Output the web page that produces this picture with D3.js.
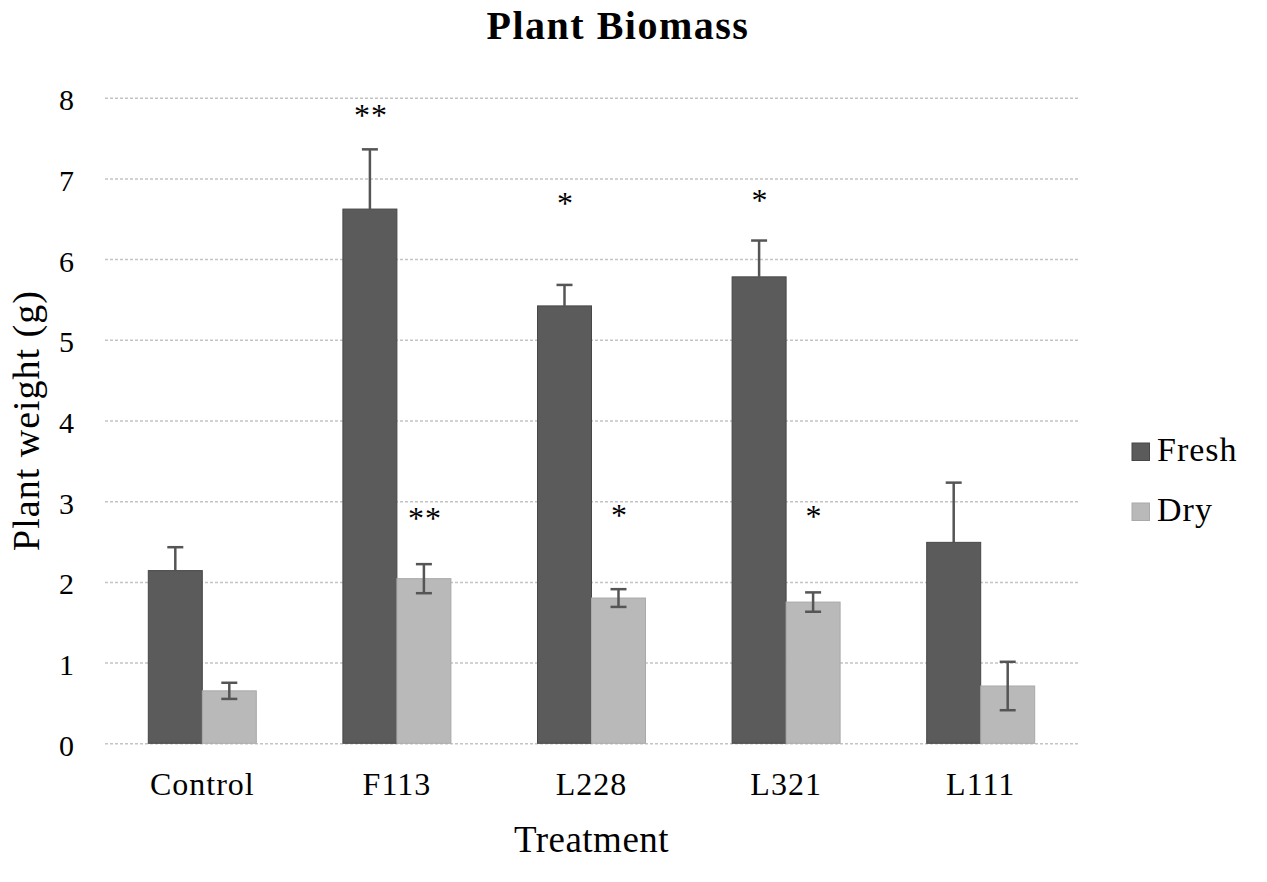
<!DOCTYPE html>
<html>
<head>
<meta charset="utf-8">
<script src="https://cdn.jsdelivr.net/npm/d3@7"></script>
<style>
  body { margin: 0; background: #fff; }
  svg text { font-family: "Liberation Serif", "Times New Roman", serif; fill: #000; }
</style>
</head>
<body>
<div id="chart"></div>
<script>
// data
var categories = ["Control", "F113", "L228", "L321", "L111"];
var seriesNames = ["Fresh", "Dry"];
var freshMean = [2.14, 6.62, 5.42, 5.78, 2.49];
var freshErr = [0.29, 0.74, 0.26, 0.45, 0.74];
var dryMean = [0.65, 2.04, 1.80, 1.75, 0.71];
var dryErr = [0.10, 0.18, 0.11, 0.12, 0.30];
var freshSig = ["", "**", "*", "*", ""];
var drySig = ["", "**", "*", "*", ""];
// where the significance marks sit (in grams)
var freshSigAt = [0, 7.82, 6.73, 6.77, 0];
var drySigAt = [0, 2.83, 2.87, 2.85, 0];
var yTicks = [0, 1, 2, 3, 4, 5, 6, 7, 8];

var svgWidth = 1267;
var svgHeight = 882;

var margin = { top: 97.7, right: 189, bottom: 138.7, left: 105 };
var width = svgWidth - margin.left - margin.right;
var height = svgHeight - margin.top - margin.bottom;

var colors = { Fresh: "#5b5b5b", Dry: "#b9b9b9" };
var strokes = { Fresh: "#474747", Dry: "#a9a9a9" };

var svg = d3.select("#chart")
  .append("svg")
  .attr("width", svgWidth)
  .attr("height", svgHeight);

var chartGroup = svg.append("g")
  .attr("transform", `translate(${margin.left}, ${margin.top})`);

// build rows from arrays
var rows = categories.map(function(c, i) {
  return {
    cat: c,
    values: [
      { key: "Fresh", mean: freshMean[i], err: freshErr[i], sig: freshSig[i], sigAt: freshSigAt[i] },
      { key: "Dry", mean: dryMean[i], err: dryErr[i], sig: drySig[i], sigAt: drySigAt[i] }
    ]
  };
});

var x0 = d3.scaleBand()
  .domain(categories)
  .range([0, width])
  .paddingInner(0.445)
  .paddingOuter(0.2225);

var x1 = d3.scaleBand()
  .domain(seriesNames)
  .range([0, x0.bandwidth()]);

var y = d3.scaleLinear()
  .domain([0, 8])
  .range([height, 0]);

// gridlines
var grid = chartGroup.append("g")
  .call(d3.axisLeft(y).tickValues(yTicks).tickSize(-width).tickFormat(""));
grid.select(".domain").remove();
grid.selectAll("line")
  .attr("stroke", "#c4c4c4")
  .attr("stroke-width", 1.5)
  .attr("stroke-dasharray", "3,2");

// y axis labels
var yAxis = chartGroup.append("g")
  .call(d3.axisLeft(y).tickValues(yTicks).tickSize(0).tickPadding(31));
yAxis.select(".domain").remove();
yAxis.selectAll("text")
  .style("font-size", "30px")
  .attr("dy", "0.4em");

// x axis labels
var xAxis = chartGroup.append("g")
  .attr("transform", `translate(0, ${height})`)
  .call(d3.axisBottom(x0).tickSize(0));
xAxis.select(".domain").remove();
xAxis.selectAll("text")
  .style("font-size", "32px")
  .style("letter-spacing", "1px")
  .attr("y", 52)
  .attr("dy", 0);

// bars
var groups = chartGroup.selectAll(".cat")
  .data(rows)
  .enter()
  .append("g")
  .attr("class", "cat")
  .attr("transform", d => `translate(${x0(d.cat)}, 0)`);

groups.selectAll("rect")
  .data(d => d.values)
  .enter()
  .append("rect")
  .attr("x", d => x1(d.key))
  .attr("y", d => y(d.mean))
  .attr("width", x1.bandwidth())
  .attr("height", d => height - y(d.mean))
  .attr("fill", d => colors[d.key])
  .attr("stroke", d => strokes[d.key])
  .attr("stroke-width", 1);

// error bars (fresh only shows the upper half over the dark bar)
var capHalf = 8;
var errs = groups.selectAll(".err")
  .data(d => d.values)
  .enter()
  .append("g")
  .attr("class", "err")
  .attr("stroke", "#555")
  .attr("stroke-width", 2.5);

errs.append("line")
  .attr("x1", d => x1(d.key) + x1.bandwidth() / 2)
  .attr("x2", d => x1(d.key) + x1.bandwidth() / 2)
  .attr("y1", d => d.key === "Fresh" ? y(d.mean) : y(d.mean - d.err))
  .attr("y2", d => y(d.mean + d.err));

errs.append("line")
  .attr("x1", d => x1(d.key) + x1.bandwidth() / 2 - capHalf)
  .attr("x2", d => x1(d.key) + x1.bandwidth() / 2 + capHalf)
  .attr("y1", d => y(d.mean + d.err))
  .attr("y2", d => y(d.mean + d.err));

errs.filter(d => d.key === "Dry")
  .append("line")
  .attr("x1", d => x1(d.key) + x1.bandwidth() / 2 - capHalf)
  .attr("x2", d => x1(d.key) + x1.bandwidth() / 2 + capHalf)
  .attr("y1", d => y(d.mean - d.err))
  .attr("y2", d => y(d.mean - d.err));

// significance stars
groups.selectAll(".sig")
  .data(d => d.values.filter(v => v.sig !== ""))
  .enter()
  .append("text")
  .attr("class", "sig")
  .attr("x", d => x1(d.key) + x1.bandwidth() / 2 + 1)
  .attr("y", d => y(d.sigAt) + 14)
  .attr("text-anchor", "middle")
  .style("font-size", "32px")
  .style("letter-spacing", "1px")
  .text(d => d.sig);

// title
svg.append("text")
  .attr("x", 618)
  .attr("y", 39)
  .attr("text-anchor", "middle")
  .style("font-size", "40px")
  .style("font-weight", "bold")
  .style("letter-spacing", "1.5px")
  .text("Plant Biomass");

// axis titles
svg.append("text")
  .attr("x", margin.left + width / 2)
  .attr("y", 852)
  .attr("text-anchor", "middle")
  .style("font-size", "37px")
  .style("letter-spacing", "0.5px")
  .text("Treatment");

svg.append("text")
  .attr("transform", `translate(39, ${margin.top + height / 2}) rotate(-90)`)
  .attr("text-anchor", "middle")
  .style("font-size", "38px")
  .style("letter-spacing", "1px")
  .text("Plant weight (g)");

// legend
var legend = svg.append("g")
  .attr("transform", "translate(1132, 443)");

var legendItems = legend.selectAll("g")
  .data(seriesNames)
  .enter()
  .append("g")
  .attr("transform", (d, i) => `translate(0, ${i * 60})`);

legendItems.append("rect")
  .attr("width", 17.5)
  .attr("height", 17.5)
  .attr("fill", d => colors[d])
  .attr("stroke", d => strokes[d]);

legendItems.append("text")
  .attr("x", 25)
  .attr("y", 18)
  .style("font-size", "34px")
  .style("letter-spacing", "1px")
  .text(d => d);
</script>
</body>
</html>
